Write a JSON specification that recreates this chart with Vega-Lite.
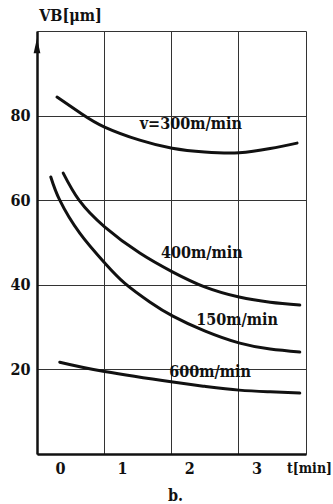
{
  "$schema": "https://vega.github.io/schema/vega-lite/v6.json",
  "width": 269,
  "height": 423,
  "autosize": "none",
  "padding": {"left": 37, "top": 31, "right": 27, "bottom": 50},
  "background": "white",
  "config": {"view": {"stroke": null}, "font": "DejaVu Serif Condensed, DejaVu Serif"},
  "title": {"text": "b.", "orient": "bottom", "anchor": "middle", "offset": 12, "fontSize": 16, "fontWeight": "bold", "font": "DejaVu Serif Condensed, DejaVu Serif", "color": "#111", "dx": 4},
  "datasets": {
    "curves": [
      {"speed": "300", "t": 0.03, "VB": 84.4},
      {"speed": "300", "t": 0.39, "VB": 80.4},
      {"speed": "300", "t": 0.72, "VB": 77.3},
      {"speed": "300", "t": 1.23, "VB": 74.2},
      {"speed": "300", "t": 1.70, "VB": 72.3},
      {"speed": "300", "t": 2.17, "VB": 71.4},
      {"speed": "300", "t": 2.67, "VB": 71.2},
      {"speed": "300", "t": 3.12, "VB": 72.2},
      {"speed": "300", "t": 3.51, "VB": 73.5},
      {"speed": "400", "t": 0.12, "VB": 66.4},
      {"speed": "400", "t": 0.35, "VB": 60.0},
      {"speed": "400", "t": 0.72, "VB": 53.7},
      {"speed": "400", "t": 1.23, "VB": 47.5},
      {"speed": "400", "t": 1.71, "VB": 43.0},
      {"speed": "400", "t": 2.17, "VB": 39.5},
      {"speed": "400", "t": 2.67, "VB": 37.1},
      {"speed": "400", "t": 3.12, "VB": 35.9},
      {"speed": "400", "t": 3.55, "VB": 35.2},
      {"speed": "150", "t": -0.06, "VB": 65.5},
      {"speed": "150", "t": 0.07, "VB": 60.0},
      {"speed": "150", "t": 0.36, "VB": 52.2},
      {"speed": "150", "t": 0.72, "VB": 45.2},
      {"speed": "150", "t": 1.01, "VB": 40.4},
      {"speed": "150", "t": 1.38, "VB": 35.9},
      {"speed": "150", "t": 1.71, "VB": 32.6},
      {"speed": "150", "t": 2.17, "VB": 29.1},
      {"speed": "150", "t": 2.68, "VB": 26.2},
      {"speed": "150", "t": 3.12, "VB": 24.8},
      {"speed": "150", "t": 3.55, "VB": 24.1},
      {"speed": "600", "t": 0.07, "VB": 21.7},
      {"speed": "600", "t": 0.72, "VB": 19.5},
      {"speed": "600", "t": 1.71, "VB": 17.0},
      {"speed": "600", "t": 2.17, "VB": 16.0},
      {"speed": "600", "t": 2.67, "VB": 15.1},
      {"speed": "600", "t": 3.12, "VB": 14.7},
      {"speed": "600", "t": 3.55, "VB": 14.4}
    ],
    "labels": [
      {"text": "v=300m/min", "t": 1.97, "VB": 78.0},
      {"text": "400m/min", "t": 2.13, "VB": 47.5},
      {"text": "150m/min", "t": 2.64, "VB": 31.7},
      {"text": "600m/min", "t": 2.25, "VB": 19.4}
    ],
    "arrow": [{"t": -0.26, "VB": 96.5}]
  },
  "layer": [
    {
      "data": {"name": "curves"},
      "mark": {"type": "line", "interpolate": "natural", "strokeWidth": 3, "color": "#111", "strokeCap": "round"},
      "encoding": {
        "x": {
          "field": "t", "type": "quantitative",
          "scale": {"domain": [-0.26, 3.64], "nice": false, "zero": false},
          "axis": {
            "values": [-0.26, 0.71, 1.685, 2.66, 3.64],
            "labelExpr": "datum.value < 0 ? '0' : datum.value < 1 ? '1' : datum.value < 2 ? '2' : datum.value < 3 ? '3' : ''",
            "labelOffset": 18, "labelPadding": 6, "labelFontSize": 16, "labelFontWeight": "bold", "labelColor": "#111",
            "ticks": false, "grid": true, "gridColor": "#333", "gridWidth": 1,
            "domainColor": "#111", "domainWidth": 2.5,
            "title": "t[min]", "titleFontSize": 14, "titleFontWeight": "bold", "titleColor": "#111",
            "titleX": 272, "titleY": 14, "titleAlign": "center", "titleBaseline": "middle", "titleAngle": 0
          }
        },
        "y": {
          "field": "VB", "type": "quantitative",
          "scale": {"domain": [0, 100], "nice": false},
          "axis": {
            "values": [0, 20, 40, 60, 80, 100],
            "labelExpr": "datum.value == 0 || datum.value == 100 ? '' : datum.label",
            "labelPadding": 7, "labelFontSize": 16, "labelFontWeight": "bold", "labelColor": "#111",
            "ticks": false, "grid": true, "gridColor": "#333", "gridWidth": 1,
            "domainColor": "#111", "domainWidth": 2.5,
            "title": "VB[μm]", "titleFontSize": 16, "titleFontWeight": "bold", "titleColor": "#111",
            "titleX": 33, "titleY": -16, "titleAlign": "center", "titleBaseline": "middle", "titleAngle": 0
          }
        },
        "detail": {"field": "speed"}
      }
    },
    {
      "data": {"name": "labels"},
      "mark": {"type": "text", "fontSize": 16, "fontWeight": "bold", "color": "#111", "align": "center", "baseline": "middle"},
      "encoding": {
        "x": {"field": "t", "type": "quantitative"},
        "y": {"field": "VB", "type": "quantitative"},
        "text": {"field": "text"}
      }
    },
    {
      "data": {"name": "arrow"},
      "mark": {"type": "point", "shape": "M0,-1L0.45,1L-0.45,1Z", "filled": true, "size": 225, "color": "#111", "opacity": 1},
      "encoding": {
        "x": {"field": "t", "type": "quantitative"},
        "y": {"field": "VB", "type": "quantitative"}
      }
    }
  ]
}
